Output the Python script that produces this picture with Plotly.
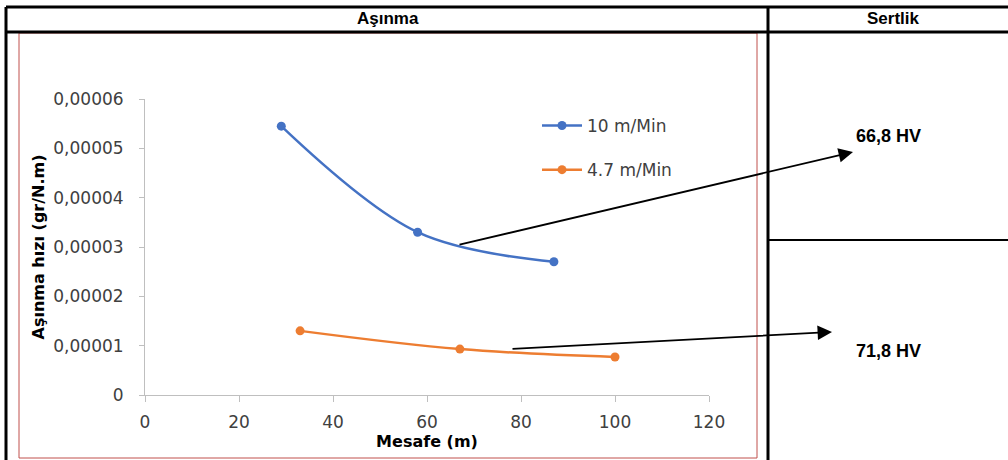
import plotly.graph_objects as go

W, H = 1008, 460

# ---- data ----
mesafe_10 = [29, 58, 87]
asinma_10 = [0.0000545, 0.0000330, 0.0000270]
mesafe_47 = [33, 67, 100]
asinma_47 = [0.0000130, 0.0000093, 0.0000077]
series_names = ["10 m/Min", "4.7 m/Min"]
x_tick_vals = [0, 20, 40, 60, 80, 100, 120]
y_tick_vals = [0, 0.00001, 0.00002, 0.00003, 0.00004, 0.00005, 0.00006]
y_tick_labels = ["0", "0,00001", "0,00002", "0,00003", "0,00004", "0,00005", "0,00006"]
header_labels = ["Aşınma", "Sertlik"]
hardness_labels = ["66,8 HV", "71,8 HV"]
x_title = "Mesafe (m)"
y_title = "Aşınma hızı (gr/N.m)"


def X(px):
    return px / W


def Y(py):
    return 1 - py / H


BLUE = "#4472C4"
ORANGE = "#ED7D31"
TICKFONT = dict(family="DejaVu Sans", size=17, color="#404040")

fig = go.Figure()
fig.add_trace(go.Scatter(
    x=mesafe_10, y=asinma_10, name=series_names[0], mode="lines+markers",
    line=dict(color=BLUE, width=2.5, shape="spline", smoothing=1),
    marker=dict(color=BLUE, size=9), legendgroup="a"))
fig.add_trace(go.Scatter(
    x=mesafe_47, y=asinma_47, name=series_names[1], mode="lines+markers",
    line=dict(color=ORANGE, width=2.5, shape="spline", smoothing=1),
    marker=dict(color=ORANGE, size=9), legendgroup="b"))

shapes = []


def line(x0, y0, x1, y1, color="black", width=3):
    shapes.append(dict(type="line", xref="paper", yref="paper",
                       x0=X(x0), y0=Y(y0), x1=X(x1), y1=Y(y1),
                       line=dict(color=color, width=width)))


# chart frame (red)
shapes.append(dict(type="rect", xref="paper", yref="paper",
                   x0=X(19), y0=Y(458), x1=X(757), y1=Y(33),
                   line=dict(color="#C0504D", width=1)))
# table lines
line(6, 7, 1008, 7)
line(6, 32, 1008, 32)
line(6, 7, 6, 460)
line(768, 7, 768, 460)
line(768, 240, 1008, 240, width=2)

HDR = dict(family="Liberation Sans", size=17, color="black")
HV = dict(family="Liberation Sans", size=18, color="black")
annotations = [
    dict(text="<b>" + header_labels[0] + "</b>", x=X(388), y=Y(19), xref="paper", yref="paper",
         showarrow=False, font=HDR, xanchor="center", yanchor="middle"),
    dict(text="<b>" + header_labels[1] + "</b>", x=X(893), y=Y(19), xref="paper", yref="paper",
         showarrow=False, font=HDR, xanchor="center", yanchor="middle"),
    dict(text="<b>" + hardness_labels[0] + "</b>", x=X(888), y=Y(136), xref="paper", yref="paper",
         showarrow=False, font=HV, xanchor="center", yanchor="middle"),
    dict(text="<b>" + hardness_labels[1] + "</b>", x=X(888), y=Y(351), xref="paper", yref="paper",
         showarrow=False, font=HV, xanchor="center", yanchor="middle"),
    # arrows
    dict(text="", x=X(853), y=Y(152), xref="paper", yref="paper",
         ax=458 - 853, ay=245 - 152, showarrow=True, arrowhead=2,
         arrowsize=1.6, arrowwidth=1.8, arrowcolor="black"),
    dict(text="", x=X(832), y=Y(332), xref="paper", yref="paper",
         ax=511 - 832, ay=349 - 332, showarrow=True, arrowhead=2,
         arrowsize=1.6, arrowwidth=1.8, arrowcolor="black"),
]

fig.update_layout(
    width=W, height=H,
    margin=dict(l=0, r=0, t=0, b=0),
    paper_bgcolor="white", plot_bgcolor="white",
    shapes=shapes, annotations=annotations,
    showlegend=True,
    legend=dict(x=X(537), y=Y(108), xanchor="left", yanchor="top",
                font=dict(family="DejaVu Sans", size=17, color="#404040"),
                bgcolor="rgba(0,0,0,0)", traceorder="grouped",
                tracegroupgap=19, itemwidth=40),
    xaxis=dict(domain=[X(145), X(709)], range=[0, 120], automargin=False,
               tickvals=x_tick_vals, showgrid=False, zeroline=False,
               showline=True, linecolor="#BFBFBF", linewidth=1,
               ticks="outside", ticklen=6, tickcolor="#BFBFBF",
               tickfont=TICKFONT, ticklabelstandoff=6,
               title=dict(text="<b>" + x_title + "</b>", standoff=0,
                          font=dict(family="DejaVu Sans", size=16, color="black"))),
    yaxis=dict(domain=[Y(395), Y(99)], range=[0, 0.00006], automargin=False,
               tickvals=y_tick_vals, ticktext=y_tick_labels,
               showgrid=False, zeroline=False,
               showline=True, linecolor="#BFBFBF", linewidth=1,
               ticks="outside", ticklen=5, tickcolor="#BFBFBF",
               tickfont=TICKFONT, ticklabelstandoff=12,
               title=dict(text="<b>" + y_title + "</b>", standoff=4,
                          font=dict(family="DejaVu Sans", size=16, color="black"))),
)

fig.write_html("out.html",
               post_script="document.body.style.margin='0';document.body.style.overflow='hidden';")
